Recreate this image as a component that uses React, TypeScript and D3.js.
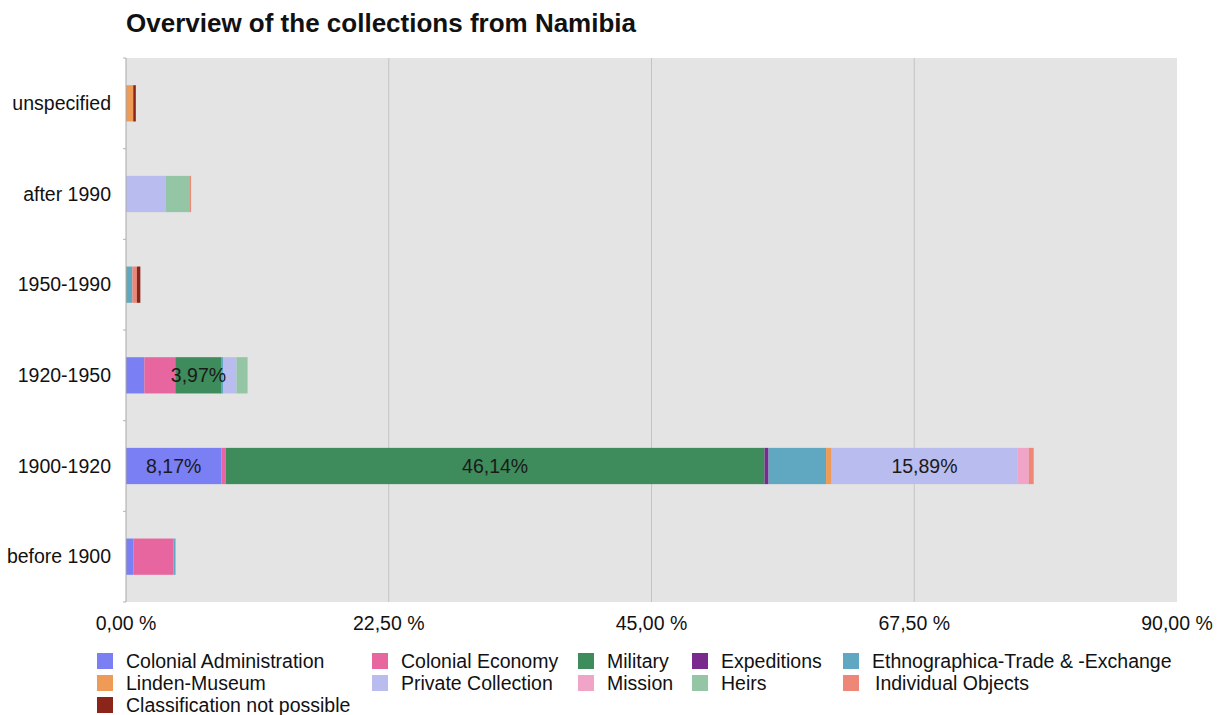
import React from "react";
import * as d3 from "d3";

const categories = ["unspecified", "after 1990", "1950-1990", "1920-1950", "1900-1920", "before 1900"];

const seriesNames = [
  "Colonial Administration",
  "Colonial Economy",
  "Military",
  "Expeditions",
  "Ethnographica-Trade & -Exchange",
  "Linden-Museum",
  "Private Collection",
  "Mission",
  "Heirs",
  "Individual Objects",
  "Classification not possible",
];

// values per category, same order as categories
const colonialAdministration = [0, 0, 0, 1.57, 8.17, 0.65];
const colonialEconomy = [0, 0, 0, 2.65, 0.37, 3.42];
const military = [0, 0, 0.05, 3.97, 46.14, 0];
const expeditions = [0, 0, 0, 0, 0.34, 0];
const ethnographica = [0, 0, 0.5, 0.12, 4.93, 0.17];
const lindenMuseum = [0.62, 0, 0, 0, 0.48, 0];
const privateCollection = [0, 3.42, 0, 1.15, 15.89, 0];
const mission = [0, 0, 0, 0, 0.98, 0];
const heirs = [0, 2.0, 0, 0.95, 0, 0];
const individualObjects = [0, 0.15, 0.38, 0, 0.43, 0];
const classificationNotPossible = [0.22, 0, 0.3, 0, 0, 0];

const seriesValues = [
  colonialAdministration,
  colonialEconomy,
  military,
  expeditions,
  ethnographica,
  lindenMuseum,
  privateCollection,
  mission,
  heirs,
  individualObjects,
  classificationNotPossible,
];

const colors = [
  "#7a7ff3",
  "#e8669f",
  "#3e8b5b",
  "#7a2a8c",
  "#60a8c2",
  "#ee9b58",
  "#b9bcee",
  "#f0a4c8",
  "#94c5a5",
  "#ef8778",
  "#8b2419",
];

// segments that carry a value label: [category, series]
const labeledSegments: [string, string][] = [
  ["1900-1920", "Colonial Administration"],
  ["1900-1920", "Military"],
  ["1900-1920", "Private Collection"],
  ["1920-1950", "Military"],
];

const xTicks = [0, 22.5, 45, 67.5, 90];

const legendRows: string[][] = [
  ["Colonial Administration", "Colonial Economy", "Military", "Expeditions", "Ethnographica-Trade & -Exchange"],
  ["Linden-Museum", "Private Collection", "Mission", "Heirs", "Individual Objects"],
  ["Classification not possible"],
];

const W = 1221;
const H = 715;
const M = { left: 126, right: 1177, top: 58, bottom: 602 };
const FONT = "Liberation Sans, Arial, sans-serif";
const FS = 19.5;

const fmt = (v: number) => v.toFixed(2).replace(".", ",");

export default function App() {
  const x = d3.scaleLinear().domain([0, 90]).range([M.left, M.right]);
  const y = d3
    .scaleBand<string>()
    .domain(categories)
    .range([M.top, M.bottom])
    .paddingInner(0.6)
    .paddingOuter(0.3);

  const rows = categories.map((c, i) => {
    const r: Record<string, any> = { category: c };
    seriesNames.forEach((s, j) => (r[s] = seriesValues[j][i]));
    return r;
  });
  const stack = d3.stack<Record<string, any>>().keys(seriesNames);
  const stacked = stack(rows);
  const color = d3.scaleOrdinal<string, string>().domain(seriesNames).range(colors);

  const step = y.step();
  const boundaries = d3.range(categories.length + 1).map((i) => M.top + i * step);

  const legendColX = [126, 401, 607, 721, 872];
  const legendRowY = [661, 683, 705];

  return (
    <svg
      width={W}
      height={H}
      style={{ position: "absolute", left: 0, top: 0, background: "#fff" }}
      fontFamily={FONT}
    >
      <text x={126} y={32} fontSize={26} fontWeight="bold" fill="#111">
        Overview of the collections from Namibia
      </text>
      <rect x={M.left} y={M.top} width={M.right - M.left} height={M.bottom - M.top} fill="#e4e4e4" />
      {xTicks.slice(1, -1).map((t) => (
        <line key={t} x1={x(t)} x2={x(t)} y1={M.top} y2={M.bottom} stroke="#c3c3c3" strokeWidth={1} />
      ))}
      {boundaries.map((b, i) => (
        <line key={i} x1={M.left - 3} x2={M.left} y1={b} y2={b} stroke="#b5b5b5" strokeWidth={1} />
      ))}
      {stacked.map((layer) =>
        layer.map((d, i) => {
          const w = x(d[1]) - x(d[0]);
          if (w <= 0) return null;
          return (
            <rect
              key={layer.key + i}
              x={x(d[0])}
              y={y(categories[i])!}
              width={w}
              height={y.bandwidth()}
              fill={color(layer.key)}
            />
          );
        })
      )}
      <line x1={M.left} x2={M.left} y1={M.top} y2={M.bottom} stroke="#a8a8a8" strokeWidth={1} />
      {labeledSegments.map(([cat, ser]) => {
        const layer = stacked.find((l) => l.key === ser)!;
        const i = categories.indexOf(cat);
        const d = layer[i];
        return (
          <text
            key={cat + ser}
            x={(x(d[0]) + x(d[1])) / 2}
            y={y(cat)! + y.bandwidth() / 2}
            dy="0.35em"
            textAnchor="middle"
            fontSize={FS}
            fill="#1a1a1a"
          >
            {fmt(d[1] - d[0])}%
          </text>
        );
      })}
      {categories.map((c) => (
        <text
          key={c}
          x={111}
          y={y(c)! + y.bandwidth() / 2}
          dy="0.35em"
          textAnchor="end"
          fontSize={FS}
          fill="#111"
        >
          {c}
        </text>
      ))}
      {xTicks.map((t) => (
        <text key={t} x={x(t)} y={623} dy="0.35em" textAnchor="middle" fontSize={FS} fill="#111">
          {fmt(t)} %
        </text>
      ))}
      {legendRows.map((row, ri) =>
        row.map((name, ci) => (
          <g key={name}>
            <rect
              x={legendColX[ci] - 29}
              y={legendRowY[ri] - 8}
              width={16}
              height={16}
              fill={color(name)}
            />
            <text
              x={legendColX[ci] + (name === "Individual Objects" ? 3 : 0)}
              y={legendRowY[ri]}
              dy="0.35em"
              fontSize={FS}
              fill="#111"
            >
              {name}
            </text>
          </g>
        ))
      )}
    </svg>
  );
}
